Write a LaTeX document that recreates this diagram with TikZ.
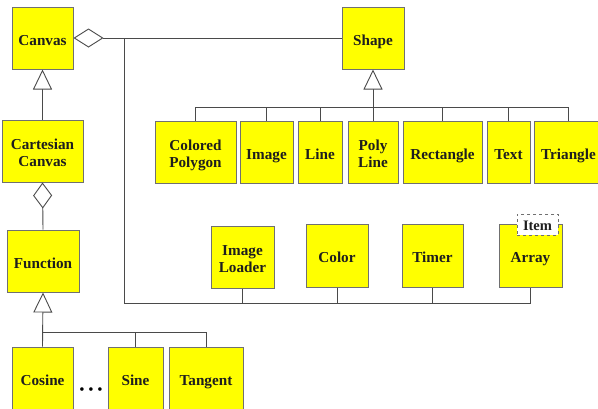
\documentclass[tikz,border=0pt]{standalone}
\usepackage{fontspec}
\setmainfont{Liberation Serif}
\usetikzlibrary{arrows.meta}
\definecolor{boxyellow}{HTML}{FFFF00}
\definecolor{boxborder}{HTML}{707070}
\definecolor{linecol}{HTML}{4A4A4A}
\definecolor{txtcol}{HTML}{1E1E1E}
\begin{document}
\begin{tikzpicture}[x=1pt,y=-1pt,
  cls/.style={draw=boxborder, line width=1pt, fill=boxyellow, text=txtcol,
    font=\bfseries\fontsize{15.2}{17.5}\selectfont, align=center, inner sep=0pt,
    minimum height=62pt, text height=14pt, text depth=0pt},
  two/.style={text height=31pt, text depth=0pt},
  conn/.style={draw=linecol, line width=0.9pt},
  inherit/.style={conn, -{Triangle[open, length=20pt, width=19pt, fill=white]}},
  aggr/.style={conn, {Diamond[open, length=#1, width=19pt, fill=white]}-},
  param/.style={draw=boxborder, dashed, line width=0.8pt, fill=white, text=txtcol,
    font=\bfseries\fontsize{14.5}{16}\selectfont, inner sep=0pt,
    minimum width=41pt, minimum height=21pt, text height=11pt, text depth=0pt}
]
\clip (0,0) rectangle (598,408);
\fill[white] (0,0) rectangle (598,408);

% nodes
\node[cls, minimum width=61pt] (canvas) at (42.5,38) {Canvas};
\node[cls, minimum width=62pt] (shape) at (373,38) {Shape};
\node[cls, two, minimum width=81pt] (cart) at (42.5,151) {Cartesian\\Canvas};
\node[cls, minimum width=72pt] (func) at (43,261) {Function};

\node[cls, two, minimum width=81pt] (cpoly) at (195.5,152) {Colored\\Polygon};
\node[cls, minimum width=53pt] (image) at (266.5,152) {Image};
\node[cls, minimum width=44pt] (line) at (320,152) {Line};
\node[cls, two, minimum width=50pt] (poly) at (373,152) {Poly\\Line};
\node[cls, minimum width=79pt] (rect) at (442.5,152) {Rectangle};
\node[cls, minimum width=43pt] (text) at (508.5,152) {Text};
\node[cls, minimum width=69pt] (tri) at (568.5,152) {Triangle};

\node[cls, two, minimum width=63pt] (iload) at (242.5,257) {Image\\Loader};
\node[cls, minimum width=62pt, minimum height=63pt] (color) at (337,255.5) {Color};
\node[cls, minimum width=61pt, minimum height=63pt] (timer) at (432.5,255.5) {Timer};
\node[cls, minimum width=63pt, minimum height=63pt] (array) at (530.5,255.5) {Array};
\node[param] (item) at (537.5,224.5) {Item};

\node[cls, minimum width=61pt, minimum height=63pt] (cosine) at (42.5,378.5) {Cosine};
\node[cls, minimum width=55pt, minimum height=63pt] (sine) at (135.5,378.5) {Sine};
\node[cls, minimum width=74pt, minimum height=63pt] (tangent) at (206,378.5) {Tangent};
\node[text=black, font=\fontsize{15}{15}\selectfont, inner sep=0pt] (dots) at (91,391)
  {\textbullet\hspace{3.7pt}\textbullet\hspace{3.7pt}\textbullet};

% junction coordinates
\coordinate (jc) at (124,38);
\coordinate (bus) at (124,303);
\coordinate (sb) at (373,107);
\coordinate (fb) at (43,332);

% Canvas aggregates Shape
\draw[aggr=30pt] (canvas.east) -- (shape.west);
% Canvas uses helpers
\draw[conn] (jc) -- (bus) -| (array.south);
\draw[conn] (iload.south) -- (iload.south |- bus);
\draw[conn] (color.south) -- (color.south |- bus);
\draw[conn] (timer.south) -- (timer.south |- bus);

% Shape hierarchy
\draw[inherit] (poly.north) -- (shape.south);
\draw[conn] (cpoly.north) -- (cpoly.north |- sb) -- (tri.north |- sb) -- (tri.north);
\draw[conn] (image.north) -- (image.north |- sb);
\draw[conn] (line.north) -- (line.north |- sb);
\draw[conn] (rect.north) -- (rect.north |- sb);
\draw[conn] (text.north) -- (text.north |- sb);

% Canvas <- Cartesian Canvas
\draw[inherit] (cart.north) -- (canvas.south);
% Cartesian Canvas aggregates Function
\draw[aggr=26pt] (cart.south) -- (func.north);

% Function hierarchy
\draw[inherit] (cosine.north) -- (func.south);
\draw[conn] (cosine.north |- fb) -- (tangent.north |- fb) -- (tangent.north);
\draw[conn] (sine.north) -- (sine.north |- fb);
\end{tikzpicture}
\end{document}
